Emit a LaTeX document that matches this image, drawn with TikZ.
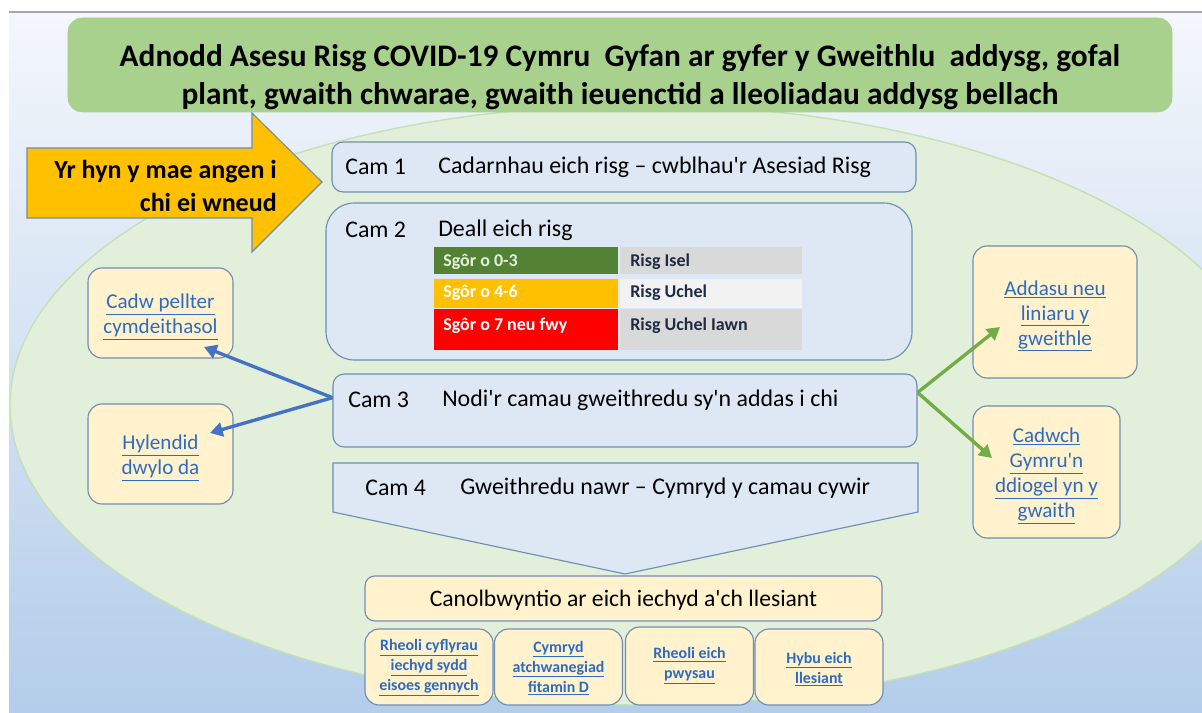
\documentclass[tikz,border=0pt]{standalone}
\usepackage{fontspec}
\setmainfont{Carlito}[Ligatures=TeXOff]
\usetikzlibrary{positioning,arrows.meta}

\definecolor{titlegreen}{HTML}{A9D18E}
\definecolor{ovalgreen}{HTML}{E2EFDA}
\definecolor{ovalline}{HTML}{C5E0B4}
\definecolor{stepblue}{HTML}{DEE8F5}
\definecolor{stepline}{HTML}{6F8DB3}
\definecolor{tipcream}{HTML}{FFF2CC}
\definecolor{linkblue}{HTML}{2F6CC0}
\definecolor{arrowblue}{HTML}{4472C4}
\definecolor{arrowgreen}{HTML}{70AD47}
\definecolor{boldorange}{HTML}{FFC000}
\definecolor{lowgreen}{HTML}{548235}
\definecolor{highred}{HTML}{FF0000}
\definecolor{cellgray}{HTML}{D9D9D9}
\definecolor{celllight}{HTML}{F2F2F2}
\definecolor{cellink}{HTML}{1F2A44}
\definecolor{bgtop}{HTML}{F4F7FC}
\definecolor{bgbottom}{HTML}{B3CDEA}

\tikzset{
    stepbox/.style={draw=stepline, fill=stepblue, line width=0.8pt, rounded corners=8pt, inner sep=0pt},
    tipbox/.style={draw=stepline, fill=tipcream, line width=0.8pt, rounded corners=10pt, inner sep=0pt},
    steptext/.style={anchor=west, inner sep=0pt, font=\fontsize{17}{20}\selectfont},
    linktext/.style={align=center, inner sep=0pt, text=linkblue, font=\fontsize{15}{17.8}\selectfont},
    smalllink/.style={align=center, inner sep=0pt, text=linkblue, font=\bfseries\fontsize{11.3}{14.2}\selectfont},
    celltext/.style={anchor=west, inner sep=0pt, font=\bfseries\fontsize{12.8}{14}\selectfont},
    bluearrow/.style={draw=arrowblue, line width=2.4pt, -{Triangle[length=9pt,width=10pt]}},
    greenarrow/.style={draw=arrowgreen, line width=2.4pt, -{Triangle[length=9pt,width=10pt]}}
}

\begin{document}
\begin{tikzpicture}[x=0.25mm, y=-0.25mm]
        \useasboundingbox (0,0) rectangle (1202,713);

        % backdrop and oval
        \shade[top color=bgtop, bottom color=bgbottom] (9,12) rectangle (1202,713);
        \draw[gray!70, line width=1pt] (9,12) -- (1202,12);
        \begin{scope}
            \clip (9,12) rectangle (1202,713);
            \draw[ovalline, fill=ovalgreen, line width=1pt] (640,405) ellipse [x radius=630, y radius=300];
        \end{scope}

        % title
        \node[draw=titlegreen, fill=titlegreen, rounded corners=10pt, minimum width=276mm, minimum height=23.5mm] (title) at (620,65) {};
        \node[align=center, inner sep=0pt, font=\bfseries\fontsize{22.3}{27}\selectfont] (titletext) at (620,77)
            {Adnodd Asesu Risg COVID-19 Cymru\ \ Gyfan ar gyfer y Gweithlu\ \ addysg, gofal\\
             plant, gwaith chwarae, gwaith ieuenctid a lleoliadau addysg bellach};

        % orange pointer
        \draw[draw=stepline, fill=boldorange, line width=0.8pt]
            (27,148) -- (252,148) -- (252,113) -- (322,182) -- (252,252) -- (252,218) -- (27,218) -- cycle;
        \node[align=right, anchor=east, inner sep=0pt, font=\bfseries\fontsize{18.5}{22.8}\selectfont] (todo) at (277,186)
            {Yr hyn y mae angen i\\ chi ei wneud};

        % steps
        \node[stepbox, minimum width=146mm, minimum height=12.5mm] (cam1) at (624,167) {};
        \node[stepbox, rounded corners=20pt, minimum width=146.5mm, minimum height=39.25mm] (cam2) at (619,281.5) {};
        \node[stepbox, minimum width=146mm, minimum height=18.25mm] (cam3) at (625,410.5) {};
        \draw[draw=stepline, fill=stepblue, line width=0.8pt]
            (333,463) -- (918,463) -- (918,512) -- (625,574) -- (333,512) -- cycle;

        \node[steptext] (cam1num) at (345,167) {Cam 1};
        \node[steptext] (cam1txt) at (438,167) {Cadarnhau eich risg – cwblhau'r Asesiad Risg};
        \node[steptext] (cam2num) at (345,230) {Cam 2};
        \node[steptext] (cam2txt) at (438,230) {Deall eich risg};
        \node[steptext] (cam3num) at (348,400) {Cam 3};
        \node[steptext] (cam3txt) at (442,400) {Nodi'r camau gweithredu sy'n addas i chi};
        \node[steptext] (cam4num) at (365,488) {Cam 4};
        \node[steptext] (cam4txt) at (460,488) {Gweithredu nawr – Cymryd y camau cywir};

        % risk table
        \foreach \top/\bot/\left/\right/\ink/\mid/\score/\level in {
                247/274/lowgreen/cellgray/ovalgreen/262/Sgôr o 0-3/Risg Isel,
                279/308/boldorange/celllight/white/293/Sgôr o 4-6/Risg Uchel,
                309/350/highred/cellgray/white/326/Sgôr o 7 neu fwy/Risg Uchel Iawn} {
            \fill[\left] (434,\top) rectangle (618,\bot);
            \fill[\right] (620,\top) rectangle (802,\bot);
            \node[celltext, text=\ink] at (443,\mid) {\score};
            \node[celltext, text=cellink] at (630,\mid) {\level};
        }

        % side boxes
        \node[tipbox, minimum width=36.25mm, minimum height=22.5mm] (cadw) at (160.5,313) {};
        \node[tipbox, minimum width=36.25mm, minimum height=25mm] (hylendid) at (160.5,454) {};
        \node[tipbox, minimum width=41mm, minimum height=33mm] (addasu) at (1055,312) {};
        \node[tipbox, minimum width=36.75mm, minimum height=33mm] (cadwch) at (1046.5,472) {};

        \node[linktext] (cadwtxt) at (160.5,317) {\underline{Cadw pellter}\\\underline{cymdeithasol}};
        \node[linktext] (hyltxt) at (160.5,458) {\underline{Hylendid}\\\underline{dwylo da}};
        \node[linktext] (addtxt) at (1055,316) {\underline{Addasu neu}\\\underline{liniaru y}\\\underline{gweithle}};
        \node[linktext] (cadwchtxt) at (1046.5,476) {\underline{Cadwch}\\\underline{Gymru'n}\\\underline{ddiogel yn y}\\\underline{gwaith}};

        % connectors
        \coordinate (cadwtip) at (204,347);
        \coordinate (hyltip) at (210,433);
        \coordinate (addtip) at (1000,327);
        \coordinate (cadwchtip) at (992,458);
        \draw[bluearrow] ([yshift=3.2mm]cam3.west) -- (cadwtip);
        \draw[bluearrow] ([yshift=3.2mm]cam3.west) -- (hyltip);
        \draw[greenarrow] ([yshift=4.5mm]cam3.east) -- (addtip);
        \draw[greenarrow] ([yshift=4.5mm]cam3.east) -- (cadwchtip);

        % wellbeing
        \node[tipbox, rounded corners=7pt, minimum width=129.25mm, minimum height=11.25mm] (focus) at (623.5,598.5) {};
        \node[inner sep=0pt, font=\fontsize{16.8}{20}\selectfont] (focustxt) at (623.5,600) {Canolbwyntio ar eich iechyd a'ch llesiant};

        \node[tipbox, minimum width=32mm, minimum height=19mm] (well1) at (429,667) {};
        \node[tipbox, minimum width=32mm, minimum height=19mm] (well2) at (558.5,667) {};
        \node[tipbox, minimum width=32mm, minimum height=19.5mm] (well3) at (689.5,666) {};
        \node[tipbox, minimum width=32mm, minimum height=19mm] (well4) at (819,667) {};

        \node[smalllink] at (429,668) {\underline{Rheoli cyflyrau}\\\underline{iechyd sydd}\\\underline{eisoes gennych}};
        \node[smalllink] at (558.5,668) {\underline{Cymryd}\\\underline{atchwanegiad}\\\underline{fitamin D}};
        \node[smalllink] at (689.5,666) {\underline{Rheoli eich}\\\underline{pwysau}};
        \node[smalllink] at (819,669) {\underline{Hybu eich}\\\underline{llesiant}};
    \end{tikzpicture}
\end{document}
